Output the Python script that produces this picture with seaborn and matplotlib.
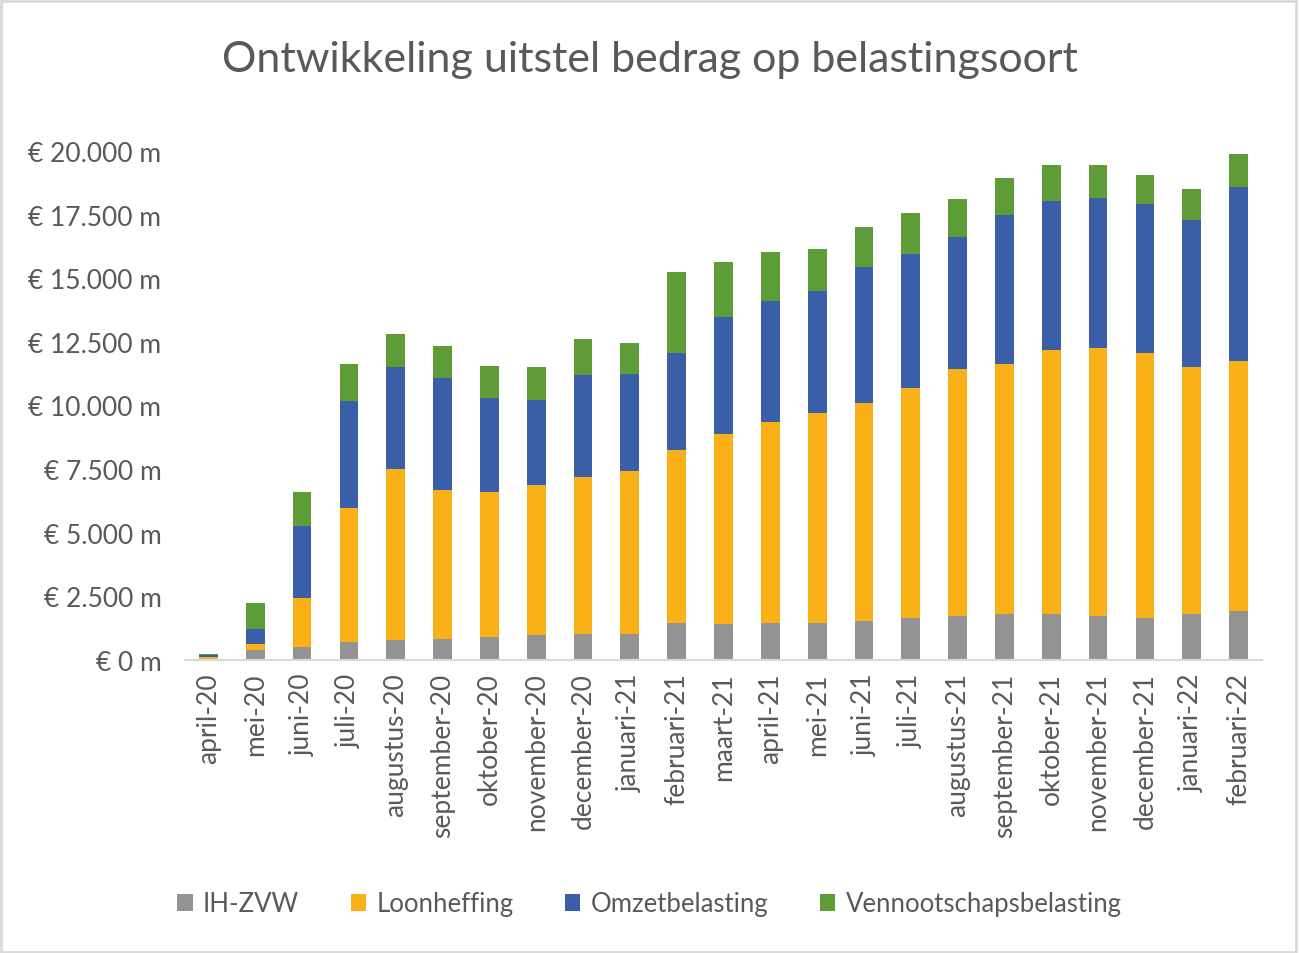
import matplotlib

matplotlib.use("Agg")
import matplotlib.pyplot as plt
import matplotlib.ticker as mticker
from matplotlib.patches import Rectangle, Patch
import seaborn as sns
import numpy as np
import pandas as pd

# data (mln euro)
maanden = [
    "april-20", "mei-20", "juni-20", "juli-20", "augustus-20", "september-20",
    "oktober-20", "november-20", "december-20", "januari-21", "februari-21",
    "maart-21", "april-21", "mei-21", "juni-21", "juli-21", "augustus-21",
    "september-21", "oktober-21", "november-21", "december-21", "januari-22",
    "februari-22",
]
ih_zvw = [30, 390, 515, 690, 775, 840, 910, 975, 1030, 1030, 1465, 1410,
          1465, 1465, 1530, 1655, 1720, 1790, 1790, 1720, 1655, 1790, 1910]
loonheffing = [80, 245, 1910, 5290, 6740, 5840, 5710, 5900, 6155, 6410, 6805,
               7485, 7875, 8255, 8570, 9030, 9720, 9845, 10410, 10535, 10410,
               9720, 9845]
omzetbelasting = [70, 570, 2845, 4190, 4000, 4395, 3690, 3360, 4015, 3810,
                  3795, 4580, 4760, 4785, 5340, 5275, 5190, 5845, 5855, 5910,
                  5855, 5775, 6820]
vpb = [70, 1030, 1340, 1465, 1275, 1245, 1260, 1275, 1395, 1205, 3200, 2170,
       1925, 1625, 1585, 1585, 1480, 1465, 1385, 1275, 1140, 1205, 1315]

series = ["IH-ZVW", "Loonheffing", "Omzetbelasting", "Vennootschapsbelasting"]
colors = ["#939393", "#FAB117", "#3B5EA8", "#5D9C36"]

df = pd.DataFrame({
    "maand": maanden,
    "IH-ZVW": ih_zvw,
    "Loonheffing": loonheffing,
    "Omzetbelasting": omzetbelasting,
    "Vennootschapsbelasting": vpb,
})
# cumulative for stacking
cum = df[series].cumsum(axis=1)
cum["maand"] = df["maand"]

sns.set_style("white")
plt.rcParams["font.family"] = ["Lato", "DejaVu Sans"]
txt = "#595959"

fig = plt.figure(figsize=(12.99, 9.54), dpi=100)
ax = fig.add_axes([185 / 1299, 293 / 954, 1077 / 1299, 509 / 954])

# draw from top layer down so smaller sums overlay
for s, c in reversed(list(zip(series, colors))):
    sns.barplot(data=cum, x="maand", y=s, color=c, width=0.4, ax=ax,
                saturation=1, linewidth=0)

ax.set_xlim(-0.5, len(maanden) - 0.5)
ax.set_ylim(0, 20000)
ax.set_yticks(np.arange(0, 20001, 2500))
ax.yaxis.set_major_formatter(
    mticker.FuncFormatter(lambda v, p: "€ " + f"{v:,.0f}".replace(",", ".") + " m")
)
ax.set_xlabel("")
ax.set_ylabel("")
for sp in ["top", "right", "left"]:
    ax.spines[sp].set_visible(False)
ax.spines["bottom"].set_color("#D9D9D9")
ax.spines["bottom"].set_linewidth(1.5)

ax.tick_params(axis="y", length=0, pad=17, labelsize=19, labelcolor=txt)
ax.tick_params(axis="x", which="major", length=0, pad=9, labelsize=19,
               labelcolor=txt, labelrotation=90)
ax.set_xticks(np.arange(-0.5, len(maanden)), minor=True)
ax.tick_params(axis="x", which="minor", length=7, width=1.5, color="#D9D9D9")

fig.text(0.5, 1 - 60 / 954, "Ontwikkeling uitstel bedrag op belastingsoort",
         ha="center", va="center", fontsize=31, color=txt)

handles = [Patch(facecolor=c, edgecolor="none", label=s) for s, c in zip(series, colors)]
fig.legend(handles=handles, loc="center", bbox_to_anchor=(0.5, 1 - 905 / 954),
           ncol=4, frameon=False, fontsize=18.5, labelcolor=txt,
           handlelength=0.6, handleheight=0.6, handletextpad=0.4, columnspacing=2.0)

fig.patches.append(Rectangle((0.001, 0.001), 0.997, 0.997, transform=fig.transFigure,
                             fill=False, edgecolor="#D9D9D9", linewidth=2))

fig.savefig("out.png", dpi=100)
